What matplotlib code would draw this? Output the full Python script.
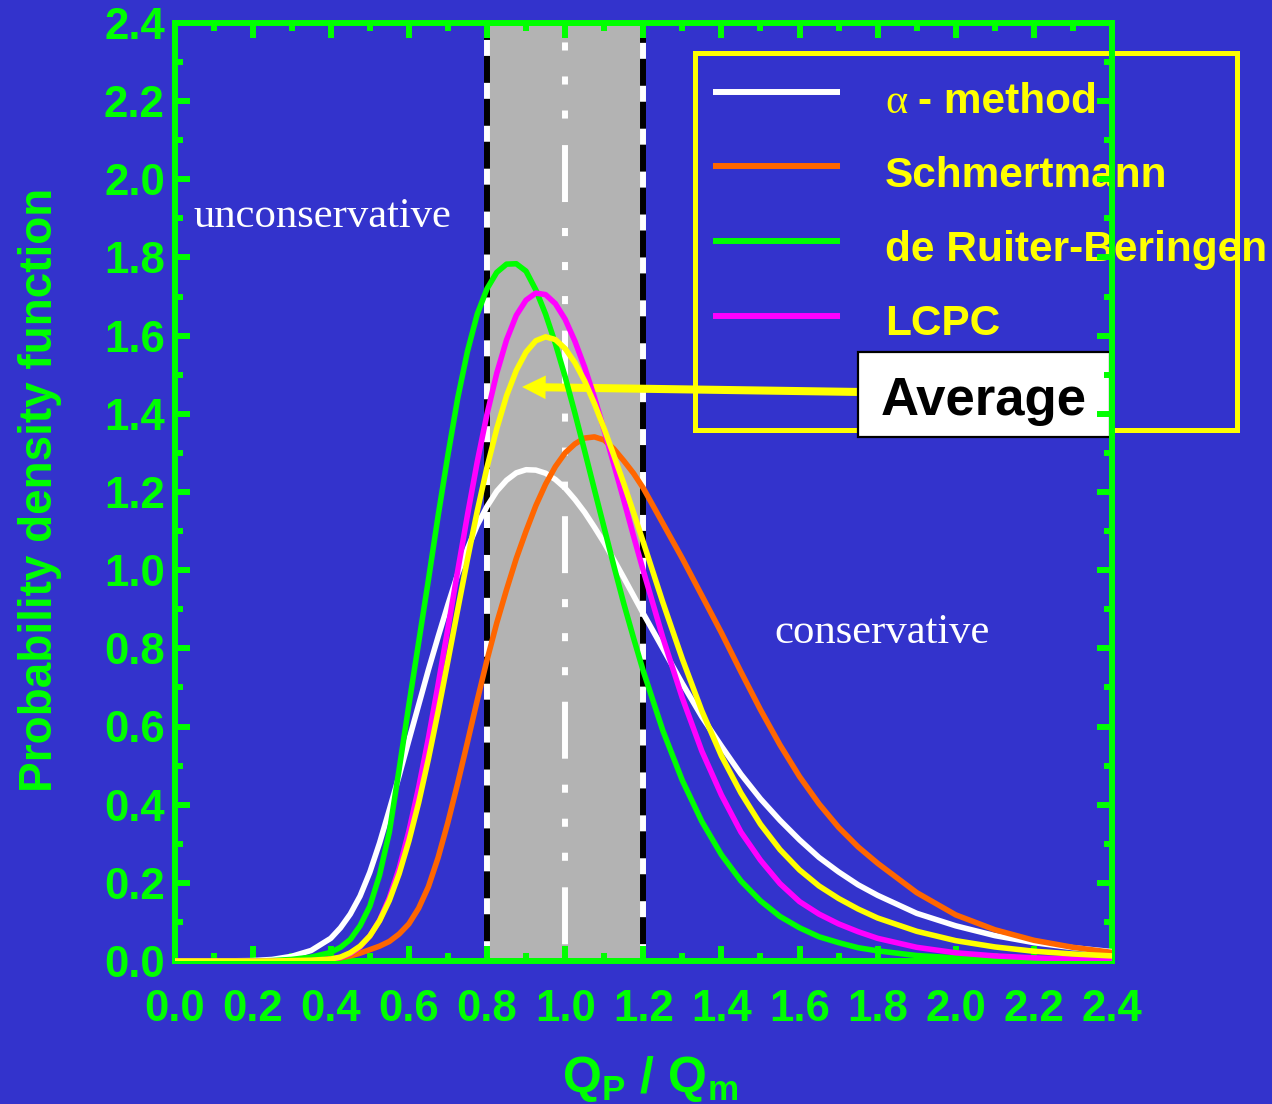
import matplotlib
matplotlib.use("Agg")
import matplotlib.pyplot as plt
from matplotlib.patches import Rectangle, ArrowStyle
from matplotlib.lines import Line2D
from matplotlib.ticker import MultipleLocator

plt.rcParams['font.family'] = ['Liberation Sans', 'DejaVu Sans']
plt.rcParams['lines.scale_dashes'] = False
plt.rcParams['mathtext.fontset'] = 'custom'
plt.rcParams['mathtext.bf'] = 'Liberation Sans:bold'
plt.rcParams['mathtext.rm'] = 'Liberation Sans'
plt.rcParams['mathtext.it'] = 'Liberation Sans:italic'

BLUE = '#3333CC'
GREEN = '#00FF00'
YELLOW = '#FFFF00'
GRAY = '#B3B3B3'

# Qp/Qm ratio and the probability density of each method
ratio = [0.0, 0.1, 0.2, 0.25, 0.3, 0.35, 0.4,
         0.425, 0.45, 0.475, 0.5, 0.525, 0.55, 0.575, 0.6, 0.625, 0.65, 0.675, 0.7,
         0.725, 0.75, 0.775, 0.8, 0.825, 0.85, 0.875, 0.9, 0.925, 0.95, 0.975, 1.0,
         1.025, 1.05, 1.075, 1.1, 1.125, 1.15, 1.175, 1.2,
         1.25, 1.3, 1.35, 1.4, 1.45, 1.5, 1.55, 1.6, 1.65, 1.7, 1.75, 1.8,
         1.9, 2.0, 2.1, 2.2, 2.3, 2.4]
alpha_method = [0, 0, 0.001, 0.004, 0.012, 0.027, 0.058,
                0.085, 0.12, 0.166, 0.227, 0.302, 0.387, 0.474, 0.565, 0.655, 0.745, 0.83, 0.912,
                0.99, 1.055, 1.115, 1.163, 1.202, 1.23, 1.249, 1.257, 1.256, 1.248, 1.232, 1.21,
                1.181, 1.148, 1.11, 1.07, 1.026, 0.981, 0.935, 0.889,
                0.80, 0.71, 0.625, 0.55, 0.478, 0.415, 0.36, 0.31, 0.265, 0.228, 0.195, 0.168,
                0.122, 0.09, 0.065, 0.047, 0.034, 0.024]
schmertmann = [0, 0, 0, 0, 0.001, 0.002, 0.005,
               0.008, 0.013, 0.02, 0.029, 0.038, 0.05, 0.069, 0.095, 0.135, 0.19, 0.265, 0.355,
               0.455, 0.56, 0.667, 0.77, 0.865, 0.95, 1.03, 1.10, 1.165, 1.22, 1.265, 1.30,
               1.323, 1.338, 1.341, 1.333, 1.31, 1.28, 1.248, 1.21,
               1.12, 1.03, 0.935, 0.84, 0.74, 0.643, 0.553, 0.472, 0.402, 0.342, 0.292, 0.25,
               0.175, 0.118, 0.08, 0.053, 0.035, 0.022]
de_ruiter = [0, 0, 0, 0.001, 0.004, 0.01, 0.022,
             0.035, 0.055, 0.09, 0.14, 0.22, 0.33, 0.49, 0.655, 0.815, 0.975, 1.14, 1.295,
             1.44, 1.56, 1.655, 1.72, 1.762, 1.783, 1.784, 1.765, 1.717, 1.655, 1.58, 1.495,
             1.402, 1.305, 1.206, 1.108, 1.01, 0.915, 0.827, 0.742,
             0.59, 0.462, 0.357, 0.272, 0.205, 0.154, 0.114, 0.085, 0.062, 0.047, 0.034, 0.026,
             0.014, 0.008, 0.004, 0.002, 0.001, 0.001]
lcpc = [0, 0, 0, 0, 0, 0.001, 0.004,
        0.009, 0.019, 0.036, 0.064, 0.104, 0.162, 0.237, 0.332, 0.444, 0.57, 0.708, 0.852,
        0.998, 1.141, 1.277, 1.399, 1.504, 1.589, 1.652, 1.691, 1.709, 1.705, 1.682, 1.642,
        1.586, 1.519, 1.442, 1.358, 1.27, 1.18, 1.088, 0.999,
        0.828, 0.673, 0.537, 0.425, 0.33, 0.258, 0.198, 0.152, 0.12, 0.095, 0.075, 0.058,
        0.035, 0.021, 0.013, 0.008, 0.005, 0.003]
average = [0, 0, 0, 0, 0.001, 0.002, 0.005,
           0.01, 0.021, 0.038, 0.064, 0.103, 0.155, 0.223, 0.307, 0.405, 0.517, 0.639, 0.768,
           0.899, 1.028, 1.151, 1.263, 1.362, 1.446, 1.511, 1.558, 1.587, 1.597, 1.59, 1.567,
           1.531, 1.484, 1.426, 1.362, 1.293, 1.222, 1.148, 1.072,
           0.918, 0.773, 0.64, 0.525, 0.43, 0.35, 0.285, 0.233, 0.192, 0.16, 0.133, 0.11,
           0.076, 0.052, 0.036, 0.025, 0.018, 0.013]

methods = ['- method', 'Schmertmann', 'de Ruiter-Beringen', 'LCPC']
method_curves = [alpha_method, schmertmann, de_ruiter, lcpc]
method_colors = ['white', '#FF6600', GREEN, '#FF00FF']

band = (0.8, 1.2)      # +/-20 % band around a perfect prediction
perfect = 1.0
ticks = [0.0, 0.2, 0.4, 0.6, 0.8, 1.0, 1.2, 1.4, 1.6, 1.8, 2.0, 2.2, 2.4]
tick_labels = ['%.1f' % t for t in ticks]

W, H = 1272, 1104


def fig_pos(x_px, y_px):
    # pixel position (from top-left) -> figure fraction
    return x_px / W, 1 - y_px / H


fig = plt.figure(figsize=(W / 100, H / 100), dpi=100, facecolor=BLUE)
ax = fig.add_axes([174.5 / W, 1 - 961 / H, 937.5 / W, 938 / H])
ax.set_facecolor(BLUE)

# grey band with black/white dashed borders, dash-dot line at 1.0
ax.axvspan(band[0], band[1], color=GRAY, lw=0, zorder=1)
for xb, phase in zip(band, (18.7, 16.6)):
    ax.plot([xb, xb], [2.4, 0], color='black', lw=4.3, zorder=2, solid_capstyle='butt')
    ax.plot([xb, xb], [2.4, 0], color='white', lw=4.3, zorder=2.1,
            ls=(phase, (11.5, 19.4)))
ax.plot([perfect, perfect], [2.4, 0], color='white', lw=4.3, zorder=2.1,
        ls=(45.7, (41.0, 18.7, 5.8, 18.7, 5.8, 18.7, 5.8, 19.1)))

for vals, col in zip(method_curves, method_colors):
    ax.plot(ratio, vals, color=col, lw=4, zorder=11, solid_joinstyle='round')
ax.plot(ratio, average, color=YELLOW, lw=4, zorder=11.5, solid_joinstyle='round')

# legend box drawn by hand, under the axes frame
tf = fig.transFigure
x0, y0 = fig_pos(695, 430)
x1, y1 = fig_pos(1237, 53)
ax.add_patch(Rectangle((x0, y0), x1 - x0, y1 - y0, transform=tf, fill=False,
                       ec=YELLOW, lw=3.6, clip_on=False, zorder=5))
for i, (name, col) in enumerate(zip(methods, method_colors)):
    ly = 91.7 + 74.6 * i
    base = 113 + 74 * i
    lx0, lyy = fig_pos(713, ly)
    lx1, _ = fig_pos(840, ly)
    ax.add_line(Line2D([lx0, lx1], [lyy, lyy], transform=tf, color=col, lw=4.3,
                       solid_capstyle='butt', clip_on=False, zorder=5))
    if i == 0:
        ax.text(*fig_pos(885, base), '\u03b1', transform=tf, color=YELLOW,
                fontsize=30.5, family=['Liberation Serif', 'DejaVu Serif'],
                va='baseline', ha='left', zorder=5)
        ax.text(*fig_pos(918, base), name, transform=tf, color=YELLOW, fontsize=30.5,
                fontweight='bold', va='baseline', ha='left', zorder=5)
    else:
        ax.text(*fig_pos(885, base), name, transform=tf, color=YELLOW, fontsize=30.5,
                fontweight='bold', va='baseline', ha='left', zorder=5)

# arrow pointing at the average curve
ax.annotate('', xy=((522 - 174.5) / 390.6, (961 - 387) / 390.8),
            xytext=((858 - 174.5) / 390.6, (961 - 392) / 390.8),
            arrowprops=dict(arrowstyle=ArrowStyle.Simple(head_length=17, head_width=17,
                                                         tail_width=5.8),
                            mutation_scale=1, color=YELLOW, lw=0, shrinkA=0, shrinkB=0),
            zorder=6)
bx0, by0 = fig_pos(858, 437)
bx1, by1 = fig_pos(1110, 352)
ax.add_patch(Rectangle((bx0, by0), bx1 - bx0, by1 - by0, transform=tf, fc='white',
                       ec='black', lw=1.6, clip_on=False, zorder=7))
ax.text(*fig_pos(984, 415), 'Average', transform=tf, color='black', fontsize=38,
        fontweight='bold', ha='center', va='baseline', zorder=7.5)

# region labels
ax.text(*fig_pos(322.5, 227), 'unconservative', transform=tf, color='white', fontsize=30.7,
        family=['Liberation Serif', 'DejaVu Serif'], ha='center', va='baseline', zorder=5)
ax.text(*fig_pos(882.5, 643), 'conservative', transform=tf, color='white', fontsize=30.7,
        family=['Liberation Serif', 'DejaVu Serif'], ha='center', va='baseline', zorder=5)

# axes frame and ticks
ax.set_xlim(0, 2.4)
ax.set_ylim(0, 2.4)
ax.set_xticks(ticks)
ax.set_yticks(ticks)
ax.set_xticklabels(tick_labels, fontweight='bold')
ax.set_yticklabels(tick_labels, fontweight='bold')
ax.xaxis.set_minor_locator(MultipleLocator(0.1))
ax.yaxis.set_minor_locator(MultipleLocator(0.1))
ax.tick_params(which='both', direction='in', top=True, right=True, color=GREEN,
               labelcolor=GREEN, width=4.3)
ax.tick_params(which='major', length=11, labelsize=31.5)
ax.tick_params(which='minor', length=5.5)
ax.tick_params(axis='x', which='major', pad=20)
ax.tick_params(axis='y', which='major', pad=7)
for sp in ax.spines.values():
    sp.set_color(GREEN)
    sp.set_linewidth(4.3)
    sp.set_zorder(10)
ax.xaxis.set_zorder(10)
ax.yaxis.set_zorder(10)

fig.text(*fig_pos(40, 490), 'Probability density function', rotation=90, color=GREEN,
         fontsize=33, fontweight='bold', ha='center', va='center')
fig.text(*fig_pos(650, 1092), r'$\mathbf{Q_P\ /\ Q_m}$', color=GREEN, fontsize=36,
         ha='center', va='baseline')

fig.savefig('out.png', dpi=100, facecolor=BLUE)
